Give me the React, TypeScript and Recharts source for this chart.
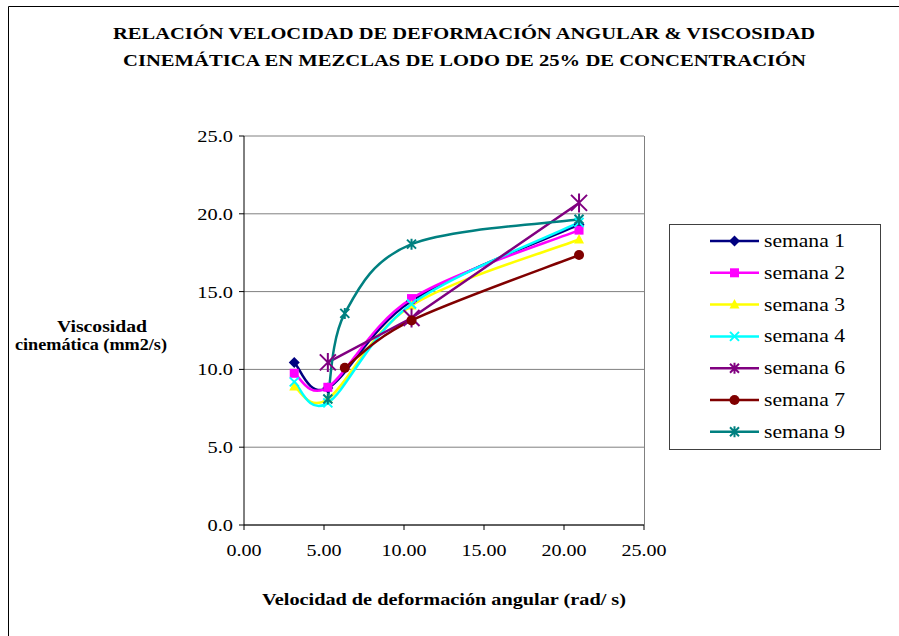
import React from 'react';
import { LineChart, Line, XAxis, YAxis, CartesianGrid, Legend } from 'recharts';

// ---- data ----
const xSemanas1a4 = [3.14, 5.24, 10.47, 20.94];
const semana1 = [10.45, 8.8, 14.4, 19.3];
const semana2 = [9.75, 8.85, 14.55, 18.95];
const semana3 = [8.9, 8.1, 14.1, 18.35];
const semana4 = [9.2, 7.85, 14.2, 19.45];
const xSemana6 = [5.24, 10.47, 20.94];
const semana6 = [10.45, 13.3, 20.7];
const xSemana7 = [6.3, 10.47, 20.94];
const semana7 = [10.1, 13.15, 17.35];
const xSemana9 = [5.24, 6.3, 10.47, 20.94];
const semana9 = [8.1, 13.6, 18.05, 19.65];

const xTicks = [0, 5, 10, 15, 20, 25];
const yTicks = [0, 5, 10, 15, 20, 25];

const titleLine1 = 'RELACIÓN VELOCIDAD DE DEFORMACIÓN ANGULAR & VISCOSIDAD';
const titleLine2 = 'CINEMÁTICA EN MEZCLAS DE LODO DE 25% DE CONCENTRACIÓN';
const yLabel1 = 'Viscosidad';
const yLabel2 = 'cinemática (mm2/s)';
const xLabel = 'Velocidad de deformación angular (rad/ s)';

const FONT = 'Liberation Serif, Times New Roman, Times, Nimbus Roman, DejaVu Serif, serif';
const fontStyle = { fontFamily: FONT };

const toPoints = (xs: number[], ys: number[]) => xs.map((x, i) => ({ x, y: ys[i] }));

// Excel-like smoothed line (Catmull-Rom / cardinal spline)
const excelSmooth = (context: any) => {
  let pts: number[][] = [];
  return {
    areaStart() {},
    areaEnd() {},
    lineStart() {
      pts = [];
    },
    lineEnd() {
      const n = pts.length;
      if (!n) return;
      context.moveTo(pts[0][0], pts[0][1]);
      for (let i = 0; i < n - 1; i++) {
        const p0 = pts[Math.max(i - 1, 0)];
        const p1 = pts[i];
        const p2 = pts[i + 1];
        const p3 = pts[Math.min(i + 2, n - 1)];
        context.bezierCurveTo(
          p1[0] + (p2[0] - p0[0]) / 6,
          p1[1] + (p2[1] - p0[1]) / 6,
          p2[0] - (p3[0] - p1[0]) / 6,
          p2[1] - (p3[1] - p1[1]) / 6,
          p2[0],
          p2[1]
        );
      }
    },
    point(x: number, y: number) {
      pts.push([+x, +y]);
    },
  };
};

type Series = { name: string; color: string; marker: string; data: { x: number; y: number }[]; smooth: boolean };

const series: Series[] = [
  { name: 'semana 1', color: '#000080', marker: 'diamond', data: toPoints(xSemanas1a4, semana1), smooth: true },
  { name: 'semana 2', color: '#FF00FF', marker: 'square', data: toPoints(xSemanas1a4, semana2), smooth: true },
  { name: 'semana 3', color: '#FFFF00', marker: 'triangle', data: toPoints(xSemanas1a4, semana3), smooth: true },
  { name: 'semana 4', color: '#00FFFF', marker: 'x', data: toPoints(xSemanas1a4, semana4), smooth: true },
  { name: 'semana 6', color: '#800080', marker: 'bigstar', data: toPoints(xSemana6, semana6), smooth: false },
  { name: 'semana 7', color: '#800000', marker: 'circle', data: toPoints(xSemana7, semana7), smooth: true },
  { name: 'semana 9', color: '#008080', marker: 'star', data: toPoints(xSemana9, semana9), smooth: true },
];

const Marker = ({ kind, cx, cy, color }: { kind: string; cx: number; cy: number; color: string }) => {
  switch (kind) {
    case 'diamond':
      return <path d={`M${cx},${cy - 5.5}L${cx + 5.5},${cy}L${cx},${cy + 5.5}L${cx - 5.5},${cy}Z`} fill={color} />;
    case 'square':
      return <rect x={cx - 4.5} y={cy - 4.5} width={9} height={9} fill={color} />;
    case 'triangle':
      return <path d={`M${cx},${cy - 5.5}L${cx + 5},${cy + 4}L${cx - 5},${cy + 4}Z`} fill={color} />;
    case 'x':
      return (
        <path d={`M${cx - 4.5},${cy - 4.5}L${cx + 4.5},${cy + 4.5}M${cx - 4.5},${cy + 4.5}L${cx + 4.5},${cy - 4.5}`} stroke={color} strokeWidth={2} fill="none" />
      );
    case 'bigstar':
      return (
        <path
          d={`M${cx - 8},${cy - 8}L${cx + 8},${cy + 8}M${cx - 8},${cy + 8}L${cx + 8},${cy - 8}M${cx},${cy - 9.5}L${cx},${cy + 9.5}`}
          stroke={color}
          strokeWidth={2}
          fill="none"
        />
      );
    case 'star':
      return (
        <path
          d={`M${cx - 4.5},${cy - 4.5}L${cx + 4.5},${cy + 4.5}M${cx - 4.5},${cy + 4.5}L${cx + 4.5},${cy - 4.5}M${cx},${cy - 5.5}L${cx},${cy + 5.5}`}
          stroke={color}
          strokeWidth={2}
          fill="none"
        />
      );
    case 'circle':
    default:
      return <circle cx={cx} cy={cy} r={5} fill={color} />;
  }
};

const XTick = (props: any) => {
  const { x, y, payload } = props;
  return (
    <text transform={`translate(${x},${y + 24}) scale(1.18,1)`} textAnchor="middle" style={fontStyle} fontSize={17} fill="#000">
      {Number(payload.value).toFixed(2)}
    </text>
  );
};

const YTick = (props: any) => {
  const { x, y, payload } = props;
  return (
    <text transform={`translate(${x - 4},${y + 6}) scale(1.2,1)`} textAnchor="end" style={fontStyle} fontSize={17} fill="#000">
      {Number(payload.value).toFixed(1)}
    </text>
  );
};

const LegendBox = () => {
  const w = 212;
  const h = 226;
  return (
    <svg width={w} height={h} style={{ display: 'block' }}>
      <rect x={0.5} y={0.5} width={w - 1} height={h - 1} fill="#fff" stroke="#404040" strokeWidth={1} />
      {series.map((s, i) => {
        const cy = 17 + i * 31.8;
        return (
          <g key={s.name}>
            <line x1={41} y1={cy} x2={90} y2={cy} stroke={s.color} strokeWidth={2.5} />
            <Marker kind={s.marker === 'bigstar' ? 'star' : s.marker} cx={65.5} cy={cy} color={s.color} />
            <text transform={`translate(95,${cy + 6}) scale(1.2,1)`} style={fontStyle} fontSize={18} fill="#000">
              {s.name}
            </text>
          </g>
        );
      })}
    </svg>
  );
};

export default function App() {
  return (
    <div style={{ position: 'absolute', left: 0, top: 0, width: 899, height: 636, background: '#fff', fontFamily: FONT }}>
      <LineChart width={899} height={636} margin={{ top: 136, right: 255, bottom: 81, left: 184 }}>
        <CartesianGrid vertical={false} stroke="#808080" strokeWidth={1} />
        <XAxis
          type="number"
          dataKey="x"
          domain={[0, 25]}
          ticks={xTicks}
          allowDataOverflow
          height={30}
          stroke="#000"
          tickSize={5}
          tick={<XTick />}
          tickLine={{ stroke: '#000' }}
          axisLine={{ stroke: '#000' }}
        />
        <YAxis
          type="number"
          dataKey="y"
          domain={[0, 25]}
          ticks={yTicks}
          allowDataOverflow
          width={60}
          stroke="#000"
          tickSize={5}
          tick={<YTick />}
          tickLine={{ stroke: '#000' }}
          axisLine={{ stroke: '#000' }}
        />
        <Legend
          layout="vertical"
          align="center"
          verticalAlign="middle"
          wrapperStyle={{ left: 669, top: 224, width: 212, height: 226 }}
          content={() => <LegendBox />}
        />
        {series.map((s) => (
          <Line
            key={s.name}
            name={s.name}
            data={s.data}
            dataKey="y"
            type={(s.smooth ? excelSmooth : 'linear') as any}
            stroke={s.color}
            strokeWidth={2.5}
            isAnimationActive={false}
            dot={(p: any) => <Marker key={`${s.name}-${p.index}`} kind={s.marker} cx={p.cx} cy={p.cy} color={s.color} />}
            activeDot={false}
          />
        ))}
      </LineChart>
      <svg width={899} height={636} style={{ position: 'absolute', left: 0, top: 0, pointerEvents: 'none' }}>
        <line x1={8.5} y1={6.5} x2={8.5} y2={636} stroke="#000" strokeWidth={1} />
        <line x1={8.5} y1={6.5} x2={899} y2={6.5} stroke="#000" strokeWidth={1} />
        <line x1={644.5} y1={136} x2={644.5} y2={525} stroke="#808080" strokeWidth={1} />
        <text x={113} y={39} textLength={702} lengthAdjust="spacingAndGlyphs" style={fontStyle} fontWeight="bold" fontSize={17} fill="#000">
          {titleLine1}
        </text>
        <text x={123} y={66} textLength={683} lengthAdjust="spacingAndGlyphs" style={fontStyle} fontWeight="bold" fontSize={17} fill="#000">
          {titleLine2}
        </text>
        <text x={57} y={332} textLength={90} lengthAdjust="spacingAndGlyphs" style={fontStyle} fontWeight="bold" fontSize={16} fill="#000">
          {yLabel1}
        </text>
        <text x={15} y={350} textLength={152} lengthAdjust="spacingAndGlyphs" style={fontStyle} fontWeight="bold" fontSize={16} fill="#000">
          {yLabel2}
        </text>
        <text x={262} y={605} textLength={364} lengthAdjust="spacingAndGlyphs" style={fontStyle} fontWeight="bold" fontSize={16} fill="#000">
          {xLabel}
        </text>
      </svg>
    </div>
  );
}
